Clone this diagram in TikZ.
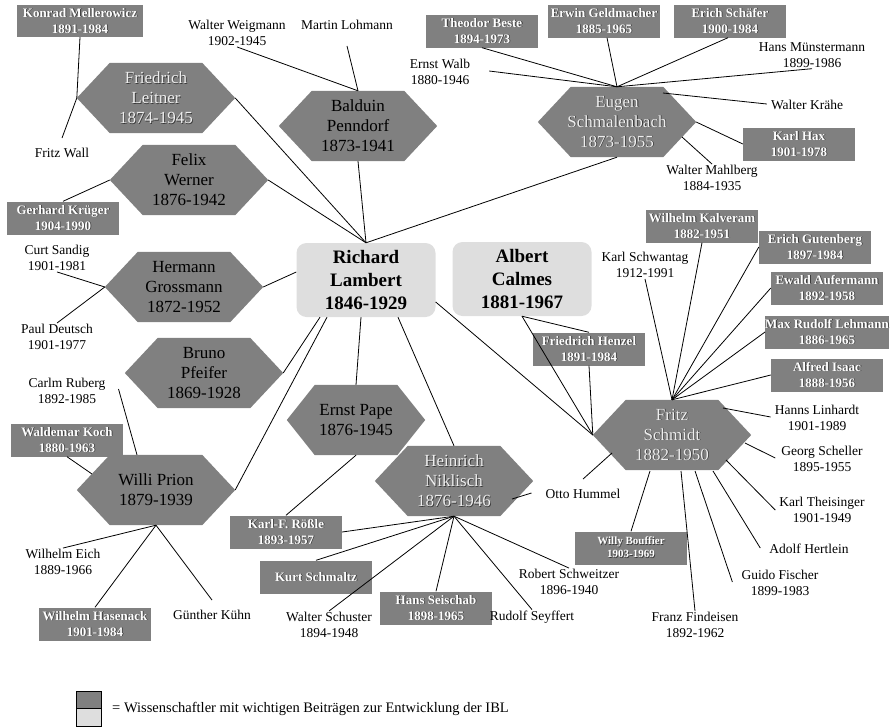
\documentclass[tikz,border=0pt]{standalone}
\usepackage{fontspec}
\setmainfont{Liberation Serif}
\usetikzlibrary{calc}
\definecolor{hexgray}{RGB}{128,128,128}
\definecolor{lightbox}{RGB}{222,222,222}
\definecolor{hexlight}{RGB}{238,238,238}
\definecolor{shadowc}{RGB}{55,55,55}
\pgfdeclarelayer{background}
\pgfsetlayers{background,main}
% text with a small dark drop shadow
\newcommand\sh[1]{\leavevmode\rlap{\kern0.8pt\raisebox{-0.8pt}{\textcolor{shadowc}{#1}}}#1}
% hexagon drawn behind a named node
\newcommand\hexfill[2][33]{%
  \begin{pgfonlayer}{background}
  \fill[hexgray] (#2.west) -- ($(#2.north west)+(#1,0)$) -- ($(#2.north east)+(-#1,0)$)
    -- (#2.east) -- ($(#2.south east)+(-#1,0)$) -- ($(#2.south west)+(#1,0)$) -- cycle;
  \end{pgfonlayer}}
\begin{document}
\begin{tikzpicture}[x=1pt,y=-1pt,
  hexa/.style={shape=rectangle, minimum width=158pt, minimum height=70pt, inner sep=0pt,
    align=center, font=\fontsize{17}{20}\selectfont},
  hexdark/.style={hexa, text=black},
  hexlite/.style={hexa, text=hexlight},
  core/.style={fill=lightbox, rounded corners=10pt, minimum width=139pt, minimum height=74pt,
    inner sep=0pt, align=center, font=\bfseries\fontsize{19}{23}\selectfont},
  box/.style={fill=hexgray, text=white, minimum width=112pt, minimum height=33pt, inner sep=0pt,
    align=center, font=\bfseries\fontsize{13}{16}\selectfont},
  lbl/.style={align=center, inner sep=1pt, font=\fontsize{13.5}{16}\selectfont},
  link/.style={draw=black, line width=0.8pt},
  legsq/.style={draw=black, line width=0.8pt, minimum width=25pt, minimum height=17.5pt, inner sep=0pt}]
\useasboundingbox (0,0) rectangle (894,726);

% hexagon schools
\node[hexlite] (lei) at (156,98) {\sh{Friedrich}\\\sh{Leitner}\\\sh{1874-1945}};
\node[hexdark] (wer) at (189,180) {Felix\\Werner\\1876-1942};
\node[hexdark] (pen) at (358,126) {Balduin\\Penndorf\\1873-1941};
\node[hexlite] (sch) at (617,122) {\sh{Eugen}\\\sh{Schmalenbach}\\\sh{1873-1955}};
\node[hexdark] (gro) at (184,287) {Hermann\\Grossmann\\1872-1952};
\node[hexdark] (pfe) at (204,373) {Bruno\\Pfeifer\\1869-1928};
\node[hexdark] (pri) at (156,490) {Willi Prion\\1879-1939};
\node[hexdark, minimum width=138pt] (pap) at (356,420) {Ernst Pape\\1876-1945};
\node[hexlite] (nik) at (454,481) {\sh{Heinrich}\\\sh{Niklisch}\\\sh{1876-1946}};
\node[hexlite] (fs) at (672,435) {\sh{Fritz}\\\sh{Schmidt}\\\sh{1882-1950}};
\foreach \n in {lei,wer,pen,sch,gro,pfe,pri,nik,fs} {\hexfill{\n}}
\hexfill[28]{pap}

% founders
\node[core] (rl) at (366,280) {Richard\\Lambert\\1846-1929};
\node[core] (ac) at (522,279) {Albert\\Calmes\\1881-1967};

% dark boxes
\node[box, minimum width=126pt, minimum height=32pt] (km) at (80,21) {\sh{Konrad Mellerowicz}\\\sh{1891-1984}};
\node[box] (gk) at (63,218) {\sh{Gerhard Krüger}\\\sh{1904-1990}};
\node[box] (tb) at (482,31) {\sh{Theodor Beste}\\\sh{1894-1973}};
\node[box] (eg) at (604,21) {\sh{Erwin Geldmacher}\\\sh{1885-1965}};
\node[box] (esc) at (730,21) {\sh{Erich Schäfer}\\\sh{1900-1984}};
\node[box] (kh) at (799,144) {\sh{Karl Hax}\\\sh{1901-1978}};
\node[box] (wka) at (702,226) {\sh{Wilhelm Kalveram}\\\sh{1882-1951}};
\node[box] (egu) at (815,247) {\sh{Erich Gutenberg}\\\sh{1897-1984}};
\node[box] (eau) at (827,288) {\sh{Ewald Aufermann}\\\sh{1892-1958}};
\node[box] (mrl) at (827,332) {\sh{Max Rudolf Lehmann}\\\sh{1886-1965}};
\node[box] (ai) at (827,375) {\sh{Alfred Isaac}\\\sh{1888-1956}};
\node[box] (fh) at (589,349) {\sh{Friedrich Henzel}\\\sh{1891-1984}};
\node[box] (wko) at (67,440) {\sh{Waldemar Koch}\\\sh{1880-1963}};
\node[box] (kr) at (286,532) {\sh{Karl-F. Rößle}\\\sh{1893-1957}};
\node[box] (ksm) at (316,577) {\sh{Kurt Schmaltz}};
\node[box] (hs) at (436,608) {\sh{Hans Seischab}\\\sh{1898-1965}};
\node[box, font=\bfseries\fontsize{11}{13}\selectfont] (wb) at (631,548) {\sh{Willy Bouffier}\\\sh{1903-1969}};
\node[box] (wh) at (95,624) {\sh{Wilhelm Hasenack}\\\sh{1901-1984}};

% plain names
\node[lbl] (ww) at (237,33) {Walter Weigmann\\1902-1945};
\node[lbl] (ml) at (347,25) {Martin Lohmann};
\node[lbl] (ewa) at (440,72) {Ernst Walb\\1880-1946};
\node[lbl] (hmu) at (812,55) {Hans Münstermann\\1899-1986};
\node[lbl] (wkr) at (807,105) {Walter Krähe};
\node[lbl] (wma) at (712,178) {Walter Mahlberg\\1884-1935};
\node[lbl] (fwa) at (62,153) {Fritz Wall};
\node[lbl] (csa) at (57,258) {Curt Sandig\\1901-1981};
\node[lbl] (pde) at (57,337) {Paul Deutsch\\1901-1977};
\node[lbl] (cru) at (67,391) {Carlm Ruberg\\1892-1985};
\node[lbl] (wei) at (63,562) {Wilhelm Eich\\1889-1966};
\node[lbl] (gku) at (212,615) {Günther Kühn};
\node[lbl] (wsc) at (329,625) {Walter Schuster\\1894-1948};
\node[lbl] (rse) at (532,617) {Rudolf Seyffert};
\node[lbl] (rsw) at (569,582) {Robert Schweitzer\\1896-1940};
\node[lbl] (ohu) at (583,494) {Otto Hummel};
\node[lbl] (ksw) at (645,265) {Karl Schwantag\\1912-1991};
\node[lbl] (hli) at (817,418) {Hanns Linhardt\\1901-1989};
\node[lbl] (gsc) at (822,459) {Georg Scheller\\1895-1955};
\node[lbl] (kth) at (822,510) {Karl Theisinger\\1901-1949};
\node[lbl] (ahe) at (809,549) {Adolf Hertlein};
\node[lbl] (gfi) at (780,583) {Guido Fischer\\1899-1983};
\node[lbl] (ffi) at (695,625) {Franz Findeisen\\1892-1962};

% Leitner
\draw[link] (km.south) -- (lei.west);
\draw[link] (lei.west) -- ($(fwa.north)+(0,-9)$);
\draw[link] (lei.east) -- (rl.north);
% Werner
\draw[link] (gk.north) -- (wer.west);
\draw[link] (wer.east) -- (rl.north);
% Penndorf
\draw[link] (pen.south) -- (rl.north);
\draw[link] (ww.south) -- (pen.north);
\draw[link] ($(ml.south)+(0,15)$) -- (pen.north);
% Schmalenbach
\draw[link] (sch.south) -- (rl.north);
\draw[link] (tb.south) -- (sch.north);
\draw[link] ($(ewa.east)+(18,-1)$) -- (sch.north);
\draw[link] ($(eg.south)+(3,0)$) -- (sch.north);
\draw[link] ($(esc.south)+(-2,0)$) -- (sch.north);
\draw[link] (hmu.south) -- (sch.north);
\draw[link] ($(sch)+(46,-29)$) -- ($(wkr.west)+(-3,-1)$);
\draw[link] (sch.east) -- (kh.west);
\draw[link] ($(sch)+(65,15)$) -- (wma.north);
% Grossmann
\draw[link] ($(rl.west)+(0,-8)$) -- (gro.east);
\draw[link] (gro.west) -- (csa.south);
\draw[link] (gro.west) -- (pde.north);
% Pfeifer
\draw[link] (pfe.east) -- ($(rl.south)+(-46,0)$);
% Prion
\draw[link] (pri.east) -- ($(rl.south)+(-39,0)$);
\draw[link] ($(cru.east)+(12,-2)$) -- ($(pri.north)+(-19,0)$);
\draw[link] (wko.south) -- ($(pri)+(-64,-16)$);
\draw[link] (pri.south) -- (wei.north);
\draw[link] (pri.south) -- (wh.north);
\draw[link] (pri.south) -- ($(gku.north)+(0,-9)$);
% Pape
\draw[link] ($(rl.south)+(-5,0)$) -- (pap.north);
\draw[link] (pap.south) -- (kr.north);
% Niklisch
\draw[link] ($(rl.south)+(32,0)$) -- (nik.north);
\draw[link] (nik.south) -- (kr.east);
\draw[link] (nik.south) -- (ksm.north);
\draw[link] (nik.south) -- (wsc.north);
\draw[link] (nik.south) -- (hs.north);
\draw[link] (nik.south) -- (rse.north);
\draw[link] (nik.south) -- (rsw.north);
\draw[link] ($(nik)+(58,18)$) -- ($(ohu.west)+(-13,-1)$);
% Schmidt
\draw[link] ($(rl.east)+(0,22)$) -- (fs.west);
\draw[link] (ac.south) -- (fs.west);
\draw[link] (ac.south) -- (fh.north);
\draw[link] (fh.south) -- (fs.west);
\draw[link] (fs.north) -- (ksw.south);
\draw[link] (fs.north) -- (wka.south);
\draw[link] (fs.north) -- (egu.west);
\draw[link] (fs.north) -- (eau.west);
\draw[link] (fs.north) -- (mrl.west);
\draw[link] (fs.north) -- (ai.west);
\draw[link] ($(fs)+(51,-27)$) -- ($(hli.west)+(-3,-1)$);
\draw[link] ($(fs)+(73,8)$) -- ($(gsc.west)+(-5,-1)$);
\draw[link] ($(fs)+(54,25)$) -- ($(kth.west)+(-3,0)$);
\draw[link] ($(fs)+(41,36)$) -- ($(ahe.west)+(-8,-1)$);
\draw[link] ($(fs)+(23,36)$) -- ($(gfi.west)+(-8,-1)$);
\draw[link] ($(fs)+(9,36)$) -- (ffi.north);
\draw[link] ($(fs)+(-22,36)$) -- (wb.north);
\draw[link] ($(fs)+(-60,18)$) -- ($(ohu.north)+(0,-9)$);

% legend
\node[legsq, fill=hexgray] (legd) at (88.5,700) {};
\node[legsq, fill=lightbox] (legl) at (88.5,717.5) {};
\node[lbl, anchor=west, font=\fontsize{14.5}{17}\selectfont] (legt) at (111,709) {= Wissenschaftler mit wichtigen Beiträgen zur Entwicklung der IBL};
\end{tikzpicture}
\end{document}
